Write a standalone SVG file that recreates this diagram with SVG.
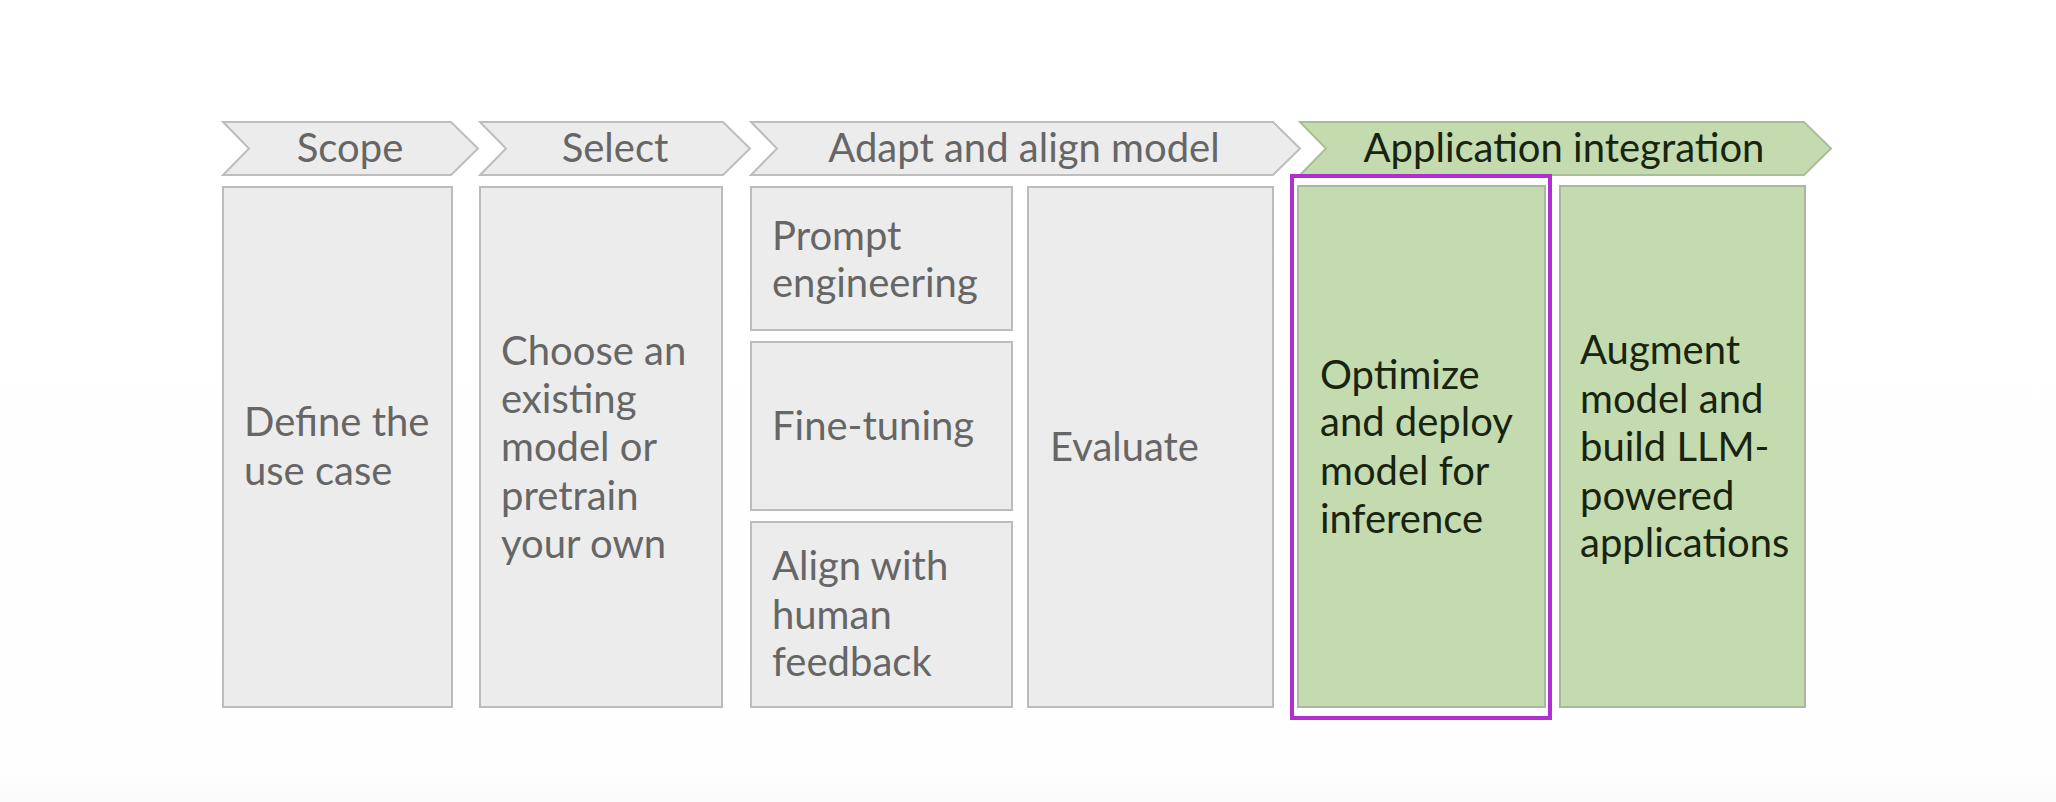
<svg xmlns="http://www.w3.org/2000/svg" width="2056" height="802" viewBox="0 0 2056 802">
<defs>
<linearGradient id="bg" x1="0" y1="0" x2="0" y2="1">
<stop offset="0" stop-color="#ffffff"/>
<stop offset="0.96" stop-color="#fefefe"/>
<stop offset="1" stop-color="#fafafa"/>
</linearGradient>
</defs>
<style>
.chev{fill:#ececec;stroke:#bdbdbd;stroke-width:2}
.chevg{fill:#c3dbae;stroke:#a9be97;stroke-width:2}
.box{fill:#ececec;stroke:#bcbcbc;stroke-width:2}
.boxg{fill:#c3dbae;stroke:#a7b99a;stroke-width:2}
.t{font-family:Lato,"Open Sans","Liberation Sans",sans-serif;font-size:40px;fill:#666666}
.tg{font-family:Lato,"Open Sans","Liberation Sans",sans-serif;font-size:40px;fill:#18240f}
.h{text-anchor:middle}
.hl{fill:none;stroke:#b02fd0;stroke-width:4}
</style>
<rect x="0" y="0" width="2056" height="802" fill="url(#bg)"/>
<g id="scope-header">
<polygon class="chev" points="223,122 451,122 478,148.5 451,175 223,175 249,148.5"/>
<text class="t h" x="350" y="162">Scope</text>
</g>
<g id="select-header">
<polygon class="chev" points="480,122 723,122 750,148.5 723,175 480,175 506,148.5"/>
<text class="t h" x="615" y="162">Select</text>
</g>
<g id="adapt-header">
<polygon class="chev" points="751,122 1273,122 1300,148.5 1273,175 751,175 777,148.5"/>
<text class="t h" x="1024" y="162">Adapt and align model</text>
</g>
<g id="app-header">
<polygon class="chevg" points="1300,122 1804,122 1831,148.5 1804,175 1300,175 1326,148.5"/>
<text class="tg h" x="1564" y="162">Application integration</text>
</g>
<g id="define">
<rect class="box" x="223" y="187" width="229" height="520"/>
<text class="t" x="244" y="436">Define the</text>
<text class="t" x="244" y="485">use case</text>
</g>
<g id="choose">
<rect class="box" x="480" y="187" width="242" height="520"/>
<text class="t" x="501" y="365">Choose an</text>
<text class="t" x="501" y="413">existing</text>
<text class="t" x="501" y="461">model or</text>
<text class="t" x="501" y="510">pretrain</text>
<text class="t" x="501" y="558">your own</text>
</g>
<g id="prompt">
<rect class="box" x="751" y="187" width="261" height="143"/>
<text class="t" x="772" y="250">Prompt</text>
<text class="t" x="772" y="297">engineering</text>
</g>
<g id="finetune">
<rect class="box" x="751" y="342" width="261" height="168"/>
<text class="t" x="772" y="440">Fine-tuning</text>
</g>
<g id="align">
<rect class="box" x="751" y="522" width="261" height="185"/>
<text class="t" x="772" y="580">Align with</text>
<text class="t" x="772" y="629">human</text>
<text class="t" x="772" y="676">feedback</text>
</g>
<g id="evaluate">
<rect class="box" x="1028" y="187" width="245" height="520"/>
<text class="t" x="1050" y="461">Evaluate</text>
</g>
<g id="optimize">
<rect class="boxg" x="1298" y="186" width="247" height="521"/>
<text class="tg" x="1320" y="389">Optimize</text>
<text class="tg" x="1320" y="436">and deploy</text>
<text class="tg" x="1320" y="485">model for</text>
<text class="tg" x="1320" y="533">inference</text>
</g>
<g id="augment">
<rect class="boxg" x="1560" y="186" width="245" height="521"/>
<text class="tg" x="1580" y="364">Augment</text>
<text class="tg" x="1580" y="413">model and</text>
<text class="tg" x="1580" y="461">build LLM-</text>
<text class="tg" x="1580" y="510">powered</text>
<text class="tg" x="1580" y="557">applications</text>
</g>
<g id="highlight">
<rect class="hl" x="1292" y="176" width="258" height="542"/>
</g>
<g id="connectors"></g>
</svg>
